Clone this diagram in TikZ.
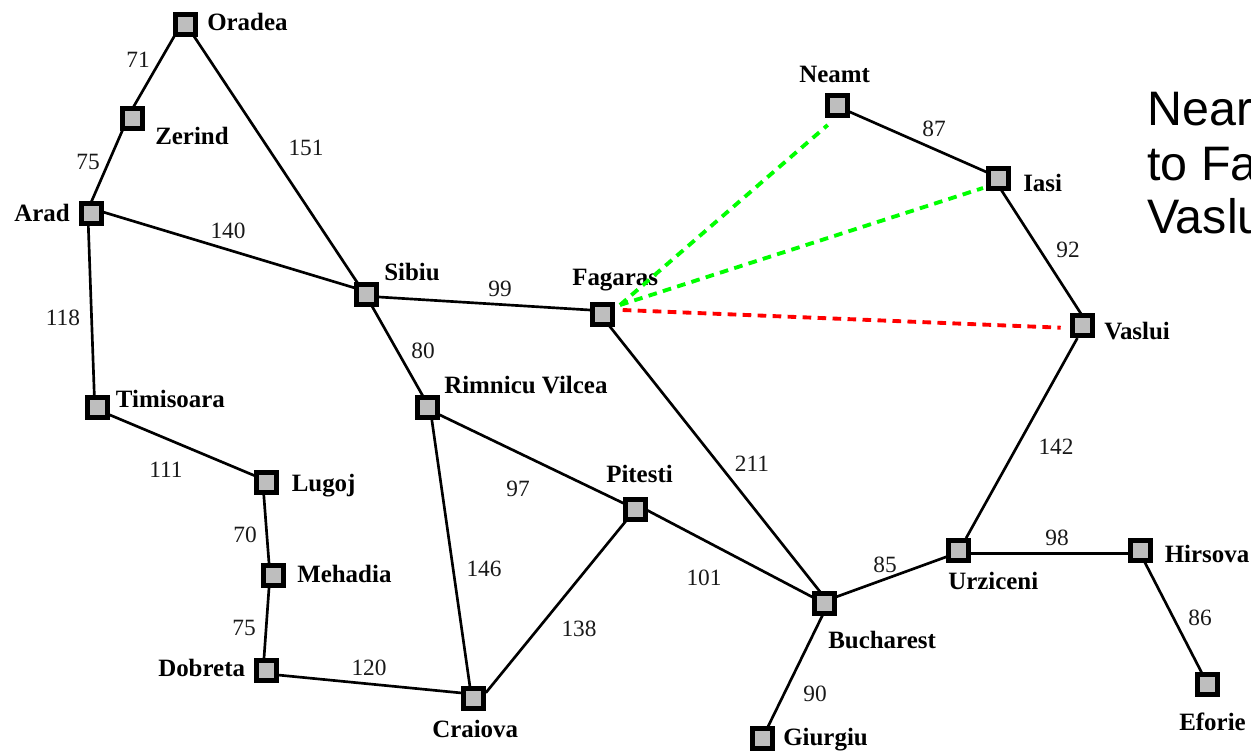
\documentclass[tikz,border=0pt]{standalone}
\usepackage{fontspec}
\usetikzlibrary{backgrounds}
\setmainfont{Liberation Serif}
\newfontfamily\bigsans{Liberation Sans}
\definecolor{cityfill}{HTML}{BEBEBE}
\begin{document}
\begin{tikzpicture}[x=0.75pt,y=-0.75pt,
  city/.style={draw=black,line width=3.75pt,fill=cityfill,minimum size=15pt,inner sep=0pt,outer sep=0pt},
  road/.style={draw=black,line width=2pt,shorten <=-1pt,shorten >=-1pt},
  citylabel/.style={font=\fontsize{18.7pt}{20pt}\selectfont\bfseries,inner sep=0pt,anchor=base west},
  dist/.style={font=\fontsize{17.5pt}{20pt}\selectfont,inner sep=0pt,text=black!90},
  near/.style={line width=2.9pt,dash pattern=on 6.5pt off 4.75pt},
  note/.style={font=\bigsans\fontsize{36.3pt}{40pt}\selectfont,inner sep=0pt,anchor=base west}]
\useasboundingbox (0,0) rectangle (1251,750);
\foreach \n/\x/\y in {Oradea/185/24,Zerind/132/118.3,Arad/91/213,Timisoara/97.7/407.3,Lugoj/266/482,Mehadia/273/575.7,Dobreta/266/670,Craiova/473.7/698,Rimnicu/427.3/407.3,Sibiu/366.7/294,Fagaras/602/314,Pitesti/635.7/509,Bucharest/824/603.7,Giurgiu/762.7/738,Urziceni/958.3/550,Hirsova/1140/550,Eforie/1207.7/684.3,Vaslui/1082.3/325,Iasi/998.3/178.3,Neamt/837.3/105.7}
  \node[city] (\n) at (\x,\y) {};
\begin{scope}[on background layer]
\foreach \a/\ax/\ay/\b/\bx/\by in {
  Oradea/-11/12.7/Zerind/2/-12.3,
  Zerind/-9.7/12.4/Arad/0.7/-12,
  Oradea/9.3/12.7/Sibiu/-10/-12.3,
  Arad/12/-1/Sibiu/-11.7/-6,
  Arad/-2.7/12/Timisoara/-3.4/-12.3,
  Timisoara/12.3/7.7/Lugoj/-13/-7,
  Lugoj/-2.3/12/Mehadia/-4/-12.7,
  Mehadia/-4/12.3/Dobreta/-2/-12,
  Dobreta/12/5/Craiova/-11.7/-5,
  Rimnicu/4.4/11.7/Craiova/-3.7/-11,
  Craiova/13/-6.3/Pitesti/-9/11,
  Sibiu/5.6/12.7/Rimnicu/-5/-12.3,
  Rimnicu/12.7/7.7/Pitesti/-12.7/-6,
  Sibiu/12.3/3/Fagaras/-12/-4,
  Fagaras/8/12.7/Bucharest/-4/-12,
  Pitesti/11/1/Bucharest/-12.3/-7,
  Bucharest/12.7/-7/Urziceni/-11.6/6.7,
  Bucharest/-1.7/12/Giurgiu/5.6/-12,
  Urziceni/8.4/-13/Vaslui/-5.6/14.3,
  Urziceni/12.7/3.3/Hirsova/-12/3.3,
  Hirsova/5/12.7/Eforie/-6/-11.6,
  Vaslui/-1.6/-11.7/Iasi/3.4/12.4,
  Iasi/-12.6/-6.6/Neamt/12/6}
  \draw[road] ([shift={(\ax,\ay)}]\a.center) -- ([shift={(\bx,\by)}]\b.center);
\end{scope}
% city names
\node[citylabel] (lOradea) at (207,30) {Oradea};
\node[citylabel] (lZerind) at (155,144) {Zerind};
\node[citylabel] (lArad) at (14,221.5) {Arad};
\node[citylabel] (lTimisoara) at (115.7,407) {Timisoara};
\node[citylabel] (lLugoj) at (291.5,491.5) {Lugoj};
\node[citylabel] (lMehadia) at (297,582.5) {Mehadia};
\node[citylabel] (lDobreta) at (158,676.5) {Dobreta};
\node[citylabel] (lCraiova) at (432,737) {Craiova};
\node[citylabel] (lRimnicu) at (444,393) {Rimnicu Vilcea};
\node[citylabel] (lSibiu) at (384,280) {Sibiu};
\node[citylabel] (lFagaras) at (572,285) {Fagaras};
\node[citylabel] (lPitesti) at (606,482.5) {Pitesti};
\node[citylabel] (lBucharest) at (828,648) {Bucharest};
\node[citylabel] (lGiurgiu) at (783,745) {Giurgiu};
\node[citylabel] (lUrziceni) at (948,589.5) {Urziceni};
\node[citylabel] (lHirsova) at (1164.5,562) {Hirsova};
\node[citylabel] (lEforie) at (1179,730.5) {Eforie};
\node[citylabel] (lVaslui) at (1104,339) {Vaslui};
\node[citylabel] (lIasi) at (1023,191.5) {Iasi};
\node[citylabel] (lNeamt) at (799,82.5) {Neamt};
% distances
\foreach \i/\x/\y/\t in {a/138/59.5/71,b/88/161.5/75,c/306/147.5/151,d/228/230.5/140,e/63/317.5/118,f/166/469.5/111,g/245/534.5/70,h/244/627.5/75,i/369/667.5/120,j/423/350.5/80,k/518/488.5/97,l/484/568.5/146,m/579/628.5/138,n/500/288.5/99,o/752/463.5/211,p/704/577.5/101,q/885/564.5/85,r/815/693.5/90,s/1056/446.5/142,t/1057/537.5/98,u/1200/617.5/86,v/1068/249.5/92,w/934/128.5/87}
  \node[dist] (d\i) at (\x,\y) {\t};
% straight-line distances
\draw[near,draw=green] ([shift={(18,-9)}]Fagaras.center) -- ([shift={(-9.6,19.3)}]Neamt.center);
\draw[near,draw=green] ([shift={(18,-9)}]Fagaras.center) -- ([shift={(-15.3,9.7)}]Iasi.center);
\draw[near,draw=red] ([shift={(20.7,-4)}]Fagaras.center) -- ([shift={(-21.6,2.7)}]Vaslui.center);
\node[note] (captionA) at (1147,125) {Near};
\node[note] (captionB) at (1147,180) {to Fa};
\node[note] (captionC) at (1147,233) {Vaslu};
\end{tikzpicture}
\end{document}
